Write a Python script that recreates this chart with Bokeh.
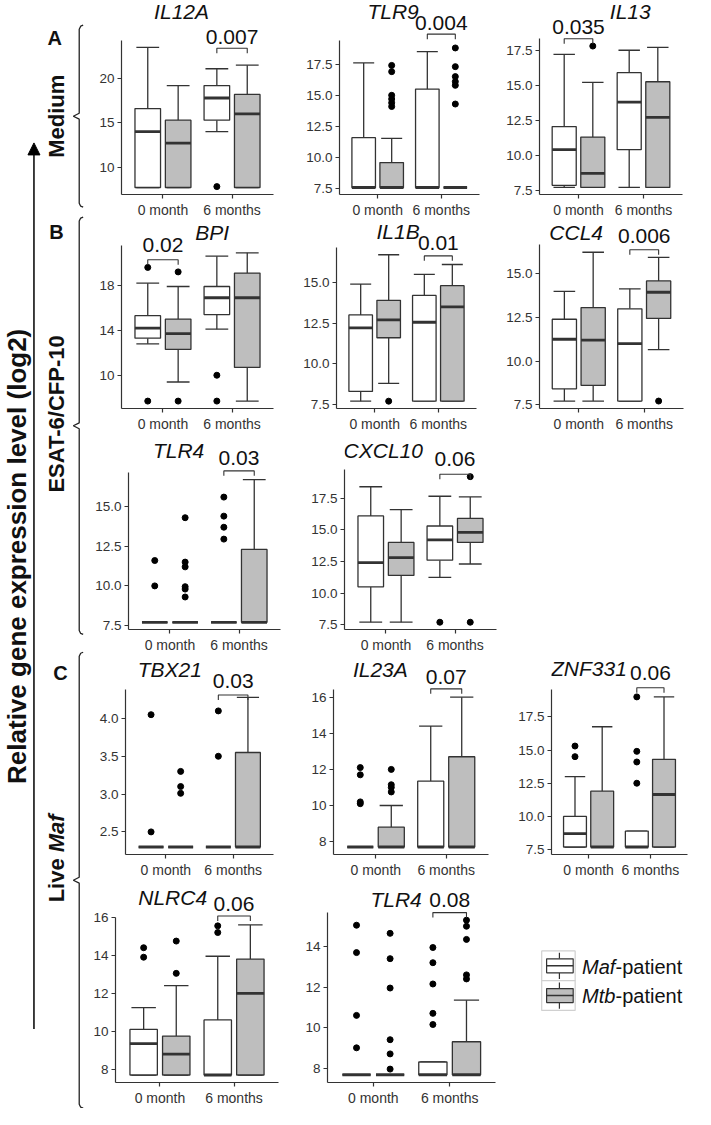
import math
from bokeh.plotting import figure
from bokeh.models import Range1d, FixedTicker, Label, Arrow, NormalHead, Spacer, NumeralTickFormatter
from bokeh.layouts import row, column
from bokeh.embed import file_html
from bokeh.resources import INLINE
from bokeh.core.properties import value

# ---------------- data ----------------
groups = ["0 month", "6 months"]
series_italic = ["Maf", "Mtb"]
series_rest = ["-patient", "-patient"]
row_titles = ["Medium", "ESAT-6/CFP-10", "Live "]
row_titles_italic = ["", "", "Maf"]
row_letters = ["A", "B", "C"]
y_title = "Relative gene expression level (log2)"

# box stats per gene: [lower whisker, Q1, median, Q3, upper whisker]
# order: 0 month Maf, 0 month Mtb, 6 months Maf, 6 months Mtb
IL12A_box = [[7.7, 7.7, 14.0, 16.6, 23.5], [7.7, 7.7, 12.7, 15.3, 19.2],
             [14.0, 15.3, 17.8, 19.2, 21.1], [7.7, 7.7, 16.0, 18.2, 21.5]]
IL12A_out = [[], [], [7.8], []]

TLR9_box = [[7.6, 7.6, 7.6, 11.6, 17.6], [7.6, 7.6, 7.6, 9.6, 11.55],
            [7.6, 7.6, 7.6, 15.5, 18.5], [7.6, 7.6, 7.6, 7.6, 7.6]]
TLR9_out = [[], [17.4, 16.9, 15.0, 14.7, 14.4, 14.1], [], [18.8, 17.3, 16.5, 16.1, 15.8, 14.3]]

IL13_box = [[7.7, 7.85, 10.4, 12.05, 17.2], [7.7, 7.7, 8.7, 11.3, 15.2],
            [7.7, 10.4, 13.8, 15.9, 17.5], [7.7, 7.7, 12.7, 15.25, 17.7]]
IL13_out = [[], [17.8], [], []]

BPI_box = [[12.8, 13.3, 14.2, 15.3, 18.2], [9.4, 12.3, 13.7, 15.0, 17.9],
           [14.1, 15.4, 16.9, 17.9, 20.6], [7.7, 10.7, 16.9, 19.1, 20.9]]
BPI_out = [[19.6, 7.7], [19.2, 7.7], [10.0, 7.7], []]

IL1B_box = [[7.7, 8.3, 12.2, 13.0, 14.9], [8.8, 11.6, 12.7, 13.9, 16.7],
            [7.7, 7.7, 12.55, 14.2, 15.5], [7.7, 7.7, 13.5, 14.8, 16.1]]
IL1B_out = [[], [7.7], [], []]

CCL4_box = [[7.7, 8.4, 11.25, 12.4, 14.0], [7.7, 8.6, 11.2, 13.07, 16.25],
            [7.7, 7.7, 11.0, 13.0, 14.15], [10.65, 12.45, 13.95, 14.6, 15.95]]
CCL4_out = [[], [], [], [7.7]]

TLR4a_box = [[7.7, 7.7, 7.7, 7.7, 7.7], [7.7, 7.7, 7.7, 7.7, 7.7],
             [7.7, 7.7, 7.7, 7.7, 7.7], [7.7, 7.7, 7.7, 12.3, 16.7]]
TLR4a_out = [[11.6, 10.0], [14.3, 11.5, 11.2, 9.95, 9.8, 9.3], [15.6, 14.4, 13.7, 12.95], []]

CXCL10_box = [[7.7, 10.5, 12.4, 16.1, 18.4], [7.7, 11.4, 12.8, 14.0, 16.6],
              [11.25, 12.6, 14.2, 15.3, 17.65], [12.3, 14.0, 14.8, 15.9, 17.6]]
CXCL10_out = [[], [], [7.7], [19.2, 7.7]]

TBX21_box = [[2.3, 2.3, 2.3, 2.3, 2.3], [2.3, 2.3, 2.3, 2.3, 2.3],
             [2.3, 2.3, 2.3, 2.3, 2.3], [2.3, 2.3, 2.3, 3.55, 4.28]]
TBX21_out = [[4.05, 2.5], [3.3, 3.1, 3.01], [4.1, 3.5], []]

IL23A_box = [[7.7, 7.7, 7.7, 7.7, 7.7], [7.7, 7.7, 7.7, 8.8, 10.0],
             [7.7, 7.7, 7.7, 11.35, 14.4], [7.7, 7.7, 7.7, 12.7, 16.0]]
IL23A_out = [[12.1, 11.7, 10.2, 10.1], [12.0, 11.15, 11.0, 10.75], [], []]

ZNF331_box = [[7.7, 7.7, 8.7, 10.0, 13.0], [7.7, 7.7, 7.7, 11.9, 16.75],
              [7.7, 7.7, 7.7, 8.9, 8.9], [7.7, 7.7, 11.65, 14.3, 19.0]]
ZNF331_out = [[15.3, 14.5], [], [19.0, 14.9, 14.1, 12.5], []]

NLRC4_box = [[7.7, 7.7, 9.35, 10.1, 11.25], [7.7, 7.7, 8.8, 9.75, 12.4],
             [7.7, 7.7, 7.7, 10.6, 13.95], [7.7, 7.7, 12.0, 13.8, 15.6]]
NLRC4_out = [[14.4, 13.9], [14.75, 13.05], [15.55, 15.2], []]

TLR4b_box = [[7.67, 7.67, 7.67, 7.67, 7.67], [7.67, 7.67, 7.67, 7.67, 7.67],
             [7.67, 7.67, 7.67, 8.3, 8.3], [7.67, 7.67, 7.67, 9.3, 11.35]]
TLR4b_out = [[15.05, 13.7, 10.6, 9.0], [14.65, 13.4, 11.95, 9.4, 8.7, 7.95],
             [13.95, 13.2, 12.15, 10.7, 10.15], [15.3, 15.0, 14.35, 12.6, 12.4]]

# tick values per panel
ticks_25 = [7.5, 10.0, 12.5, 15.0, 17.5]
IL12A_ticks = [10, 15, 20]
TLR9_ticks = ticks_25
IL13_ticks = ticks_25
BPI_ticks = [10, 14, 18]
IL1B_ticks = [7.5, 10.0, 12.5, 15.0]
CCL4_ticks = [7.5, 10.0, 12.5, 15.0]
TLR4a_ticks = [7.5, 10.0, 12.5, 15.0]
CXCL10_ticks = ticks_25
TBX21_ticks = [2.5, 3.0, 3.5, 4.0]
IL23A_ticks = [8, 10, 12, 14, 16]
ZNF331_ticks = ticks_25
NLRC4_ticks = [8, 10, 12, 14, 16]
TLR4b_ticks = [8, 10, 12, 14]

# (gene label, box stats, outliers, ticks, p-value text, group index of the comparison)
panels = [
    ("IL12A", IL12A_box, IL12A_out, IL12A_ticks, "0.007", 1),
    ("TLR9", TLR9_box, TLR9_out, TLR9_ticks, "0.004", 1),
    ("IL13", IL13_box, IL13_out, IL13_ticks, "0.035", 0),
    ("BPI", BPI_box, BPI_out, BPI_ticks, "0.02", 0),
    ("IL1B", IL1B_box, IL1B_out, IL1B_ticks, "0.01", 1),
    ("CCL4", CCL4_box, CCL4_out, CCL4_ticks, "0.006", 1),
    ("TLR4", TLR4a_box, TLR4a_out, TLR4a_ticks, "0.03", 1),
    ("CXCL10", CXCL10_box, CXCL10_out, CXCL10_ticks, "0.06", 1),
    ("TBX21", TBX21_box, TBX21_out, TBX21_ticks, "0.03", 1),
    ("IL23A", IL23A_box, IL23A_out, IL23A_ticks, "0.07", 1),
    ("ZNF331", ZNF331_box, ZNF331_out, ZNF331_ticks, "0.06", 1),
    ("NLRC4", NLRC4_box, NLRC4_out, NLRC4_ticks, "0.06", 1),
    ("TLR4", TLR4b_box, TLR4b_out, TLR4b_ticks, "0.08", 1),
]

# ---------------- layout (reference pixel positions) ----------------
geom = [
    dict(row=0, fx0=93, fx1=305, yax=128, xend=282, v0=10, y0=174, ppu=9.1, tx=189, ty=14, py=40, by=52),
    dict(row=0, fx0=305, fx1=510, yax=350, xend=492, v0=7.5, y0=193, ppu=12.6, tx=404, ty=14, py=26, by=37),
    dict(row=0, fx0=510, fx1=711, yax=553, xend=698, v0=7.5, y0=197, ppu=14.3, tx=645, ty=14, py=30, by=42),
    dict(row=1, fx0=93, fx1=305, yax=128, xend=282, v0=10, y0=385, ppu=11.6, tx=220, ty=238, py=251, by=266),
    dict(row=1, fx0=305, fx1=510, yax=346, xend=489, v0=10, y0=373, ppu=16.8, tx=409, ty=237, py=249, by=262),
    dict(row=1, fx0=510, fx1=711, yax=553, xend=699, v0=10, y0=368, ppu=17.6, tx=590, ty=238, py=241, by=255),
    dict(row=2, fx0=93, fx1=305, yax=135, xend=290, v0=10, y0=596, ppu=16.2, tx=186, ty=458, py=466, by=479),
    dict(row=2, fx0=305, fx1=520, yax=355, xend=509, v0=7.5, y0=634, ppu=12.8, tx=394, ty=458, py=467, by=482),
    dict(row=3, fx0=93, fx1=300, yax=132, xend=282, v0=2.5, y0=847, ppu=78, tx=177, ty=680, py=692, by=706),
    dict(row=3, fx0=300, fx1=520, yax=343, xend=501, v0=8, y0=853, ppu=18.25, tx=391, ty=679, py=687, by=699),
    dict(row=3, fx0=520, fx1=711, yax=565, xend=703, v0=7.5, y0=863, ppu=13.5, tx=603, ty=678, py=683, by=698),
    dict(row=4, fx0=93, fx1=300, yax=122, xend=288, v0=8, y0=1086, ppu=19.4, tx=180, ty=910, py=917, by=929),
    dict(row=4, fx0=300, fx1=530, yax=337, xend=508, v0=8, y0=1087, ppu=21, tx=407, ty=912, py=913, by=926),
]

SX, SY = 0.984, 0.989
def X(r): return (r - 5) * SX
def Y(r): return (r - 3) * SY

ROWS = [3, 225, 445, 666, 895, 1123]
row_c = [round(Y(r)) for r in ROWS]
TOT_H = row_c[-1]
TOT_W = round(X(711))
LW = round(X(93))

FONT = "Liberation Sans"
LC = "#333333"
GRAY = "#bebebe"
OFF = 0.22
BW = 0.37
CW = 0.33


def make_panel(spec, g):
    name, box, out, ticks, ptxt, pg = spec
    top_c, bot_c = row_c[g["row"]], row_c[g["row"] + 1]
    fx0, fx1 = round(X(g["fx0"])), round(X(g["fx1"]))
    W, H = fx1 - fx0, bot_c - top_c
    L = round(X(g["yax"])) - fx0
    Rr = fx1 - round(X(g["xend"]))
    ppu = g["ppu"] * SY
    allv = [v for b in box for v in b] + [v for o in out for v in o]
    dmin, dmax = min(allv), max(allv)
    lo = dmin - 0.05 * (dmax - dmin)
    hi = dmax + 0.05 * (dmax - dmin)
    ybot_ref = g["y0"] + (g["v0"] - lo) * g["ppu"]
    B = bot_c - round(Y(ybot_ref))
    fh = H - B
    y_end = lo + fh / ppu
    fw = W - L - Rr
    unit = fw / 2.2

    p = figure(width=W, height=H, x_range=Range1d(0.4, 2.6), y_range=Range1d(lo, y_end),
               min_border_left=L, min_border_right=Rr, min_border_top=0, min_border_bottom=B,
               toolbar_location=None, output_backend="svg", title=None)
    p.outline_line_color = None
    p.xgrid.visible = False
    p.ygrid.visible = False

    def xd(r):
        return 0.4 + (X(r) - fx0 - L) / unit

    def yd(r):
        return lo + ((top_c + fh) - Y(r)) / ppu

    xs = [gi + 1 + o for gi in range(len(groups)) for o in (-OFF, OFF)]
    fills = ["white", GRAY, "white", GRAY]
    lw = [b[0] for b in box]
    q1 = [b[1] for b in box]
    md = [b[2] for b in box]
    q3 = [b[3] for b in box]
    uw = [b[4] for b in box]
    p.segment(x0=xs, y0=lw, x1=xs, y1=q1, line_color=LC, line_width=1.3)
    p.segment(x0=xs, y0=q3, x1=xs, y1=uw, line_color=LC, line_width=1.3)
    p.segment(x0=[x - CW / 2 for x in xs], y0=lw, x1=[x + CW / 2 for x in xs], y1=lw, line_color=LC, line_width=1.3)
    p.segment(x0=[x - CW / 2 for x in xs], y0=uw, x1=[x + CW / 2 for x in xs], y1=uw, line_color=LC, line_width=1.3)
    p.quad(left=[x - BW / 2 for x in xs], right=[x + BW / 2 for x in xs], bottom=q1, top=q3,
           fill_color=fills, line_color=LC, line_width=1.3)
    p.segment(x0=[x - BW / 2 for x in xs], y0=md, x1=[x + BW / 2 for x in xs], y1=md,
              line_color=LC, line_width=2.8)
    ox = [xs[i] for i, o in enumerate(out) for _ in o]
    oy = [v for o in out for v in o]
    p.scatter(ox, oy, size=6, fill_color="black", line_color="black")

    # significance bracket
    gx = pg + 1
    arm = 5 / ppu
    yb = yd(g["by"])
    p.line([gx - OFF, gx - OFF, gx + OFF, gx + OFF], [yb - arm, yb, yb, yb - arm],
           line_color=LC, line_width=1.1)
    p.add_layout(Label(x=gx, y=yd(g["py"]), text=ptxt, text_font=FONT, text_font_size="21px",
                       text_align="center", text_baseline="middle", text_color="#111111"))
    p.add_layout(Label(x=xd(g["tx"]), y=yd(g["ty"]), text=name, text_font=FONT, text_font_size="21px",
                       text_font_style="italic", text_align="center", text_baseline="middle",
                       text_color="#111111"))

    # axes
    p.xaxis.ticker = FixedTicker(ticks=[1, 2])
    p.xaxis.major_label_overrides = {i + 1: gname for i, gname in enumerate(groups)}
    p.yaxis.ticker = FixedTicker(ticks=ticks)
    integer = all(float(t).is_integer() for t in ticks)
    p.yaxis.formatter = NumeralTickFormatter(format="0" if integer else "0.0")
    p.yaxis.bounds = (lo, hi)
    for ax in (p.xaxis[0], p.yaxis[0]):
        ax.axis_line_color = LC
        ax.axis_line_width = 1.2
        ax.major_tick_line_color = LC
        ax.major_tick_line_width = 1.2
        ax.major_tick_out = 4
        ax.major_tick_in = 0
        ax.minor_tick_line_color = None
        ax.major_label_text_font = FONT
        ax.major_label_text_color = "#333333"
    p.xaxis.major_label_text_font_size = "14px"
    p.yaxis.major_label_text_font_size = "13.5px"
    p.xaxis.major_label_standoff = 3
    p.yaxis.major_label_standoff = 3
    return p, fx0, fx1


figs = [make_panel(s, g) for s, g in zip(panels, geom)]


def build_row(r, extra=None):
    items = []
    cur = LW
    h = row_c[r + 1] - row_c[r]
    for (p, fx0, fx1), g in zip(figs, geom):
        if g["row"] != r:
            continue
        if fx0 > cur:
            items.append(Spacer(width=fx0 - cur, height=h))
        items.append(p)
        cur = fx1
    if extra is not None:
        items.append(extra)
        cur += extra.width
    if cur < TOT_W:
        items.append(Spacer(width=TOT_W - cur, height=h))
    return row(*items)


# ---------------- legend ----------------
lg_x0 = round(X(530))
lg_w = TOT_W - lg_x0
lg_h = row_c[5] - row_c[4]
lg = figure(width=lg_w, height=lg_h, x_range=Range1d(0, lg_w), y_range=Range1d(0, lg_h),
            x_axis_type=None, y_axis_type=None, min_border=0, toolbar_location=None,
            output_backend="svg", title=None)
lg.outline_line_color = None
lg.xgrid.visible = False
lg.ygrid.visible = False


def gxl(r): return X(r) - lg_x0
def gyl(r): return lg_h - (Y(r) - row_c[4])


key_tops = [973, 1007]
key_fills = ["white", GRAY]
for kt, kf, it, rest in zip(key_tops, key_fills, series_italic, series_rest):
    lg.quad(left=[gxl(555)], right=[gxl(589)], top=[gyl(kt)], bottom=[gyl(kt + 34)],
            fill_color="white", line_color="#d0d0d0", line_width=1.2)
    cx = gxl(573)
    lg.segment(x0=[cx, cx], y0=[gyl(kt + 2), gyl(kt + 25)], x1=[cx, cx], y1=[gyl(kt + 9), gyl(kt + 32)],
               line_color=LC, line_width=1.2)
    lg.quad(left=[gxl(560)], right=[gxl(587)], top=[gyl(kt + 9)], bottom=[gyl(kt + 25)],
            fill_color=kf, line_color=LC, line_width=1.2)
    lg.segment(x0=[gxl(560)], y0=[gyl(kt + 17)], x1=[gxl(587)], y1=[gyl(kt + 17)], line_color=LC, line_width=1.4)
    lg.text(x=[gxl(596)], y=[gyl(kt + 18)], text=[it], text_font=value(FONT), text_font_size="20px",
            text_font_style="italic", text_align="left", text_baseline="middle", text_color="#111111")
    lg.text(x=[gxl(596) + 33.5], y=[gyl(kt + 18)], text=[rest], text_font=value(FONT), text_font_size="20px",
            text_align="left", text_baseline="middle", text_color="#111111")

# ---------------- left annotation strip ----------------
lf = figure(width=LW, height=TOT_H, x_range=Range1d(0, LW), y_range=Range1d(0, TOT_H),
            x_axis_type=None, y_axis_type=None, min_border=0, toolbar_location=None,
            output_backend="svg", title=None)
lf.outline_line_color = None
lf.xgrid.visible = False
lf.ygrid.visible = False


def lx(r): return X(r)
def ly(r): return TOT_H - Y(r)


lf.text(x=[16], y=[ly(565)], text=[y_title], angle=math.pi / 2, text_font=value(FONT),
        text_font_style="bold", text_font_size="26px", text_align="center", text_baseline="middle",
        text_color="#111111")
lf.add_layout(Arrow(end=NormalHead(size=12, fill_color="black", line_color="black"),
                    x_start=lx(39), y_start=ly(1043), x_end=lx(39), y_end=ly(147),
                    line_color="black", line_width=1.5))

brackets = [(28, 212), (222, 644), (662, 1123)]
title_centers = [120, 421, 871]
letter_pos = [(60, 41), (62, 237), (66, 683)]
for (t, b), tc, (lxp, lyp), rt, rti, let in zip(brackets, title_centers, letter_pos,
                                                 row_titles, row_titles_italic, row_letters):
    m = (t + b) / 2
    bx = [89, 86.5, 85, 85, 79, 85, 85, 86.5, 89]
    by = [t, t + 1, t + 4, m - 3, m, m + 3, b - 4, b - 1, b]
    lf.line([lx(v) for v in bx], [ly(v) for v in by], line_color="#222222", line_width=1.3)
    lf.text(x=[lx(lxp)], y=[ly(lyp)], text=[let], text_font=value(FONT), text_font_style="bold",
            text_font_size="20px", text_align="center", text_baseline="middle", text_color="#111111")
    if rti:
        w1 = 50.1
        total = w1 + 36.7
        start = ly(tc) - total / 2
        lf.text(x=[lx(62)], y=[start], text=[rt], angle=math.pi / 2, text_font=value(FONT),
                text_font_style="bold", text_font_size="22px", text_align="left", text_baseline="middle",
                text_color="#111111")
        lf.text(x=[lx(62)], y=[start + w1], text=[rti], angle=math.pi / 2, text_font=value(FONT),
                text_font_style="bold italic", text_font_size="22px", text_align="left",
                text_baseline="middle", text_color="#111111")
    else:
        lf.text(x=[lx(62)], y=[ly(tc)], text=[rt], angle=math.pi / 2, text_font=value(FONT),
                text_font_style="bold", text_font_size="22px", text_align="center", text_baseline="middle",
                text_color="#111111")

rows = [build_row(0), build_row(1), build_row(2), build_row(3), build_row(4, extra=lg)]
layout = row(lf, column(*rows))

open("out.html", "w").write(file_html(layout, INLINE))
